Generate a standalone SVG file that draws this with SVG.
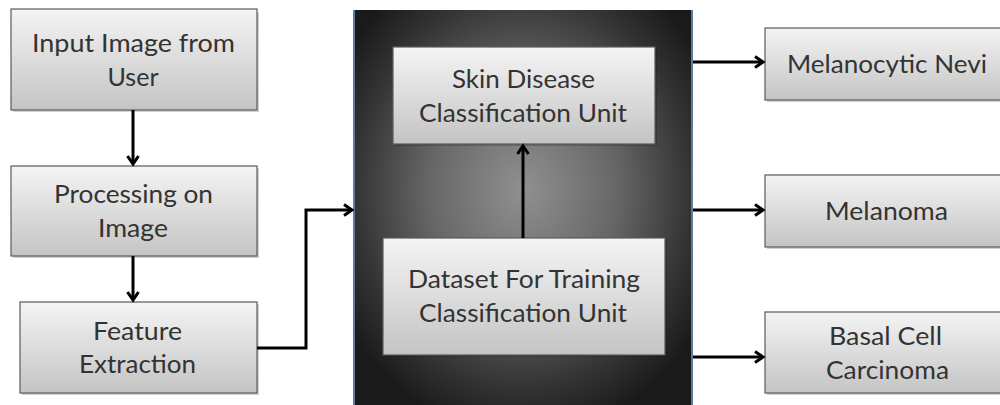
<svg xmlns="http://www.w3.org/2000/svg" width="1000" height="405" viewBox="0 0 1000 405">
<defs>
<linearGradient id="boxg" x1="0" y1="0" x2="0" y2="1">
<stop offset="0" stop-color="#f4f4f4"/>
<stop offset="1" stop-color="#c4c4c4"/>
</linearGradient>
<radialGradient id="paneg" cx="0.5" cy="0.45" r="0.62">
<stop offset="0" stop-color="#909090"/>
<stop offset="0.45" stop-color="#666"/>
<stop offset="0.8" stop-color="#333"/>
<stop offset="1" stop-color="#1a1a1a"/>
</radialGradient>
<marker id="arr" markerWidth="14" markerHeight="14" refX="11" refY="7" orient="auto" markerUnits="userSpaceOnUse">
<path d="M3,1.5 L11,7 L3,12.5" fill="none" stroke="#000" stroke-width="3"/>
</marker>
</defs>
<style>
.box{fill:url(#boxg);stroke:#5a5a5a;stroke-width:1.2}
.sh{fill:#000;opacity:0.18}
.t{font-family:Lato,"Open Sans",sans-serif;font-size:25px;fill:#333;text-anchor:middle}
.c{fill:none;stroke:#000;stroke-width:3}
</style>
<rect width="1000" height="405" fill="#fff"/>
<g id="panel">
<rect x="353" y="10" width="340" height="400" fill="url(#paneg)"/>
<line x1="354" y1="10" x2="354" y2="405" stroke="#5a7aa8" stroke-width="2"/>
<line x1="692" y1="10" x2="692" y2="405" stroke="#5a7aa8" stroke-width="2"/>
</g>
<g id="input">
<rect class="sh" x="13" y="12" width="246" height="100"/>
<rect class="box" x="11" y="9" width="246" height="101"/>
<text class="t" x="133.5" y="52" textLength="203" lengthAdjust="spacingAndGlyphs">Input Image from</text>
<text class="t" x="133" y="86" textLength="51" lengthAdjust="spacingAndGlyphs">User</text>
</g>
<g id="processing">
<rect class="sh" x="13" y="168" width="246" height="90"/>
<rect class="box" x="11" y="166" width="246" height="90"/>
<text class="t" x="133.5" y="203" textLength="159" lengthAdjust="spacingAndGlyphs">Processing on</text>
<text class="t" x="133" y="237" textLength="70" lengthAdjust="spacingAndGlyphs">Image</text>
</g>
<g id="feature">
<rect class="sh" x="22" y="304" width="237" height="91"/>
<rect class="box" x="20" y="302" width="237" height="91"/>
<text class="t" x="137.5" y="340" textLength="89" lengthAdjust="spacingAndGlyphs">Feature</text>
<text class="t" x="137.5" y="373" textLength="117" lengthAdjust="spacingAndGlyphs">Extraction</text>
</g>
<g id="skin">
<rect class="sh" x="395" y="49" width="262" height="97"/>
<rect class="box" x="393" y="47" width="262" height="97"/>
<text class="t" x="523.5" y="88" textLength="143" lengthAdjust="spacingAndGlyphs">Skin Disease</text>
<text class="t" x="523" y="122" textLength="208" lengthAdjust="spacingAndGlyphs">Classification Unit</text>
</g>
<g id="dataset">
<rect class="sh" x="385" y="240" width="282" height="117"/>
<rect class="box" x="383" y="238" width="282" height="117"/>
<text class="t" x="524" y="288" textLength="232" lengthAdjust="spacingAndGlyphs">Dataset For Training</text>
<text class="t" x="523" y="322" textLength="208" lengthAdjust="spacingAndGlyphs">Classification Unit</text>
</g>
<g id="nevi">
<rect class="sh" x="767" y="30" width="245" height="72"/>
<rect class="box" x="765" y="28" width="245" height="72"/>
<text class="t" x="887" y="73" textLength="200" lengthAdjust="spacingAndGlyphs">Melanocytic Nevi</text>
</g>
<g id="melanoma">
<rect class="sh" x="767" y="177" width="245" height="72"/>
<rect class="box" x="765" y="175" width="245" height="72"/>
<text class="t" x="886.5" y="220" textLength="123" lengthAdjust="spacingAndGlyphs">Melanoma</text>
</g>
<g id="basal">
<rect class="sh" x="767" y="314" width="245" height="81"/>
<rect class="box" x="765" y="312" width="245" height="81"/>
<text class="t" x="885.5" y="345" textLength="113" lengthAdjust="spacingAndGlyphs">Basal Cell</text>
<text class="t" x="887.5" y="379" textLength="123" lengthAdjust="spacingAndGlyphs">Carcinoma</text>
</g>
<g id="connectors">
<line class="c" x1="133" y1="110" x2="133" y2="164" marker-end="url(#arr)"/>
<line class="c" x1="133" y1="256" x2="133" y2="300" marker-end="url(#arr)"/>
<polyline class="c" points="257,348 306,348 306,210 352,210" marker-end="url(#arr)"/>
<line class="c" x1="523" y1="238" x2="523" y2="146" marker-end="url(#arr)"/>
<line class="c" x1="693" y1="62" x2="763" y2="62" marker-end="url(#arr)"/>
<line class="c" x1="693" y1="210" x2="763" y2="210" marker-end="url(#arr)"/>
<line class="c" x1="693" y1="357" x2="763" y2="357" marker-end="url(#arr)"/>
</g>
</svg>
